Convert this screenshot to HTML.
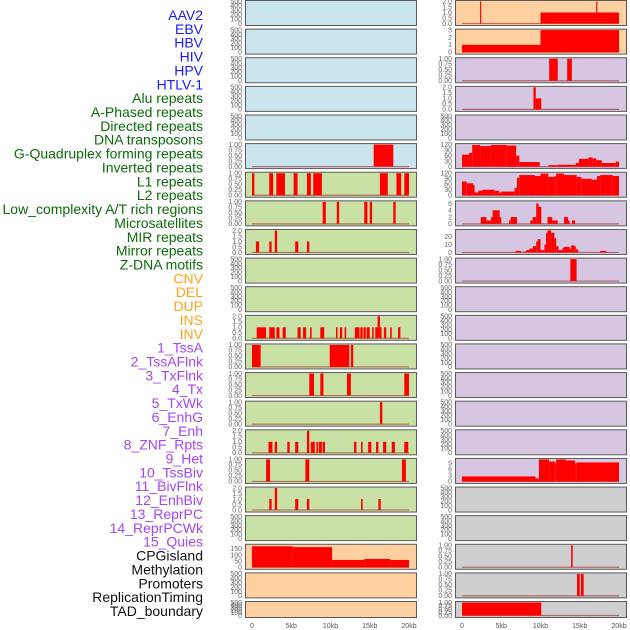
<!DOCTYPE html>
<html><head><meta charset="utf-8"><style>
html,body{margin:0;padding:0;background:#fff;width:630px;height:630px;overflow:hidden}
svg{display:block}
</style></head><body>
<svg id="chart" width="630" height="630" xmlns="http://www.w3.org/2000/svg"></svg>
<script>
// ---- data ----
const trackLabels = ["AAV2","EBV","HBV","HIV","HPV","HTLV-1","Alu repeats","A-Phased repeats","Directed repeats","DNA transposons","G-Quadruplex forming repeats","Inverted repeats","L1 repeats","L2 repeats","Low_complexity A/T rich regions","Microsatellites","MIR repeats","Mirror repeats","Z-DNA motifs","CNV","DEL","DUP","INS","INV","1_TssA","2_TssAFlnk","3_TxFlnk","4_Tx","5_TxWk","6_EnhG","7_Enh","8_ZNF_Rpts","9_Het","10_TssBiv","11_BivFlnk","12_EnhBiv","13_ReprPC","14_ReprPCWk","15_Quies","CPGisland","Methylation","Promoters","ReplicationTiming","TAD_boundary"];
const labelGroups = [6,13,5,15,5];
const xTicks = [0,5,10,15,20];
const xTickLabels = ["0","5kb","10kb","15kb","20kb"];

const ticksEmpty = ["0","100","200","300","400","500"], valsEmpty=[0,100,200,300,400,500];
const ticks1 = ["0.00","0.25","0.50","0.75","1.00"], vals1=[0,0.25,0.5,0.75,1];
const ticks2 = ["0.0","0.5","1.0","1.5","2.0"], vals2=[0,0.5,1,1.5,2];

// left column segments [startKb, endKb, value]
const L6 = [[15.5,18.0,1]];
const L7 = [[0,0.3,1],[2.2,2.7,1],[3.1,4.2,1],[5.3,5.8,1],[7.0,7.5,1],[7.8,8.9,1],[16.3,17.3,1],[18.4,19.0,1],[19.4,20,1]];
const L8 = [[9.0,9.4,1],[10.8,11.1,1],[14.3,14.7,1],[15.0,15.3,1],[18.0,18.3,1]];
const L9 = [[0.5,0.9,1],[2.2,2.5,1],[2.9,3.2,2],[5.5,5.9,1],[7.0,7.3,1]];
const L12 = [[0.6,1.8,1],[2.2,2.9,1],[3.1,3.5,1],[3.9,4.3,1],[5.8,6.2,1],[6.5,6.9,1],[7.4,7.6,1],[8.7,9.2,1],[10.7,10.9,1],[11.2,11.5,1],[11.8,12.0,1],[13.1,13.7,1],[13.8,14.1,1],[14.2,14.5,1],[14.6,15.0,1],[15.3,15.5,1],[15.7,16.0,1],[16.0,16.3,2],[16.3,16.5,1],[16.8,17.1,1],[17.6,17.8,1],[18.6,18.9,1]];
const L13 = [[0,1.1,1],[9.9,12.4,1],[12.6,12.9,1]];
const L14 = [[7.3,7.9,1],[8.7,9.1,1],[12.1,12.6,1],[19.4,20,1]];
const L15 = [[16.3,16.6,1]];
const L16 = [[2.1,2.6,1],[2.9,3.2,1],[4.5,4.8,1],[5.5,5.9,1],[7.0,7.3,2],[7.5,8.0,1],[8.2,8.4,1],[8.5,8.9,1],[9.0,9.3,1],[13.0,13.3,1],[13.9,14.1,1],[14.8,15.2,1],[15.8,16.1,1],[16.7,17.1,1],[17.8,18.2,1],[19.4,19.9,1]];
const L17 = [[1.8,2.3,1],[6.8,7.3,1],[19.1,19.6,1]];
const L18 = [[2.2,2.5,1],[2.9,3.2,2],[5.5,5.9,1],[7.0,7.3,1],[13.9,14.1,1],[16.1,16.4,1]];
const L20 = [[0,5.2,172],[5.2,10.2,165],[10.2,14.3,60],[14.3,17.6,68],[17.6,20,60]];
// right column
const R1 = [[2.3,2.45,2],[10,20,1],[17.1,17.25,2]];
const R2 = [[0,10,1],[10,20,3]];
const R3 = [[11.1,12.2,1],[13.4,14.0,1]];
const R4 = [[9.1,9.4,2],[9.4,10.1,1]];
const R6 = [[0,0.9,65],[0.9,1.3,75],[1.3,2.3,118],[2.3,3.7,112],[3.7,5.7,118],[5.7,6.9,115],[6.9,7.3,60],[7.3,9.9,25],[9.9,11,0],[11,12.2,8],[12.2,14.5,10],[14.5,14.9,20],[14.9,16.1,42],[16.1,16.6,50],[16.6,17.1,45],[17.1,17.8,35],[17.8,19.6,20],[19.6,20,27]];
const R7 = [[0,0.6,75],[0.6,1.4,65],[1.4,1.6,55],[1.6,2.1,15],[2.1,2.6,25],[2.6,4.1,30],[4.1,4.7,25],[4.7,5.0,15],[5.0,6.7,20],[6.7,7.0,40],[7.0,7.3,95],[7.3,9.3,110],[9.3,10.0,105],[10.0,11.0,118],[11.0,11.8,100],[11.8,12.0,105],[12.0,13.0,118],[13.0,14.6,110],[14.6,15.2,100],[15.2,16.5,90],[16.5,17.2,85],[17.2,17.6,105],[17.6,19.2,110],[19.2,20,105]];
const R8 = [[2.4,3.1,2],[3.1,3.7,1],[3.7,3.9,2],[3.9,4.8,4],[4.8,5.0,2],[6.0,6.2,1],[6.2,7.0,2],[8.7,9.0,1],[9.0,9.45,2],[9.45,9.75,6],[9.75,10.1,5],[10.9,11.5,2],[11.5,12.2,1],[13.0,13.5,2],[13.5,13.7,1],[14.0,14.4,1]];
const R9 = [[6.8,7.55,2],[7.76,8.19,1],[8.19,8.6,3],[8.6,9.03,5],[9.03,9.45,8],[9.45,9.66,14],[9.66,10.0,17],[10.0,10.5,3],[10.5,10.7,10],[10.7,10.9,25],[10.9,11.35,28],[11.35,11.77,25],[11.77,12.0,18],[12.0,12.3,8],[12.3,12.8,3],[12.8,13.0,6],[13.0,13.7,7],[13.7,13.9,5],[13.9,14.3,9],[14.3,14.5,8],[14.5,14.8,4],[17.6,18.4,2]];
const R10 = [[13.8,14.6,1]];
const R17 = [[0,9.37,2.5],[9.37,9.8,1.5],[9.8,11.1,11],[11.1,11.8,10],[11.8,12.0,9.5],[12.0,13.25,11],[13.25,14.4,10.5],[14.4,14.6,9],[14.6,20,9.5]];
const R20 = [[13.9,14.1,1]];
const R21 = [[14.65,15.0,1],[15.15,15.5,1]];
const R22 = [[0,10.1,1]];

const BLUE="#c9e4ed",GREEN="#c9e1a4",ORANGE="#ffd1a0",PURPLE="#d6c6e2",GREY="#cfcfcf";
function P(name,bg,segs,max,tl,tv){return {name:name,bg:bg,segs:segs,max:max,tl:tl,tv:tv};}
const leftPanels=[
P("aav2",BLUE,null,500,ticksEmpty,valsEmpty),P("ebv",BLUE,null,500,ticksEmpty,valsEmpty),P("hbv",BLUE,null,500,ticksEmpty,valsEmpty),
P("hiv",BLUE,null,500,ticksEmpty,valsEmpty),P("hpv",BLUE,null,500,ticksEmpty,valsEmpty),P("htlv",BLUE,L6,1,ticks1,vals1),
P("alu",GREEN,L7,1,ticks1,vals1),P("a-phased",GREEN,L8,1,ticks1,vals1),P("directed",GREEN,L9,2,ticks2,vals2),
P("dna-transposons",GREEN,null,500,ticksEmpty,valsEmpty),P("g-quad",GREEN,null,500,ticksEmpty,valsEmpty),P("inverted",GREEN,L12,2,ticks2,vals2),
P("l1",GREEN,L13,1,ticks1,vals1),P("l2",GREEN,L14,1,ticks1,vals1),P("low-complexity",GREEN,L15,1,ticks1,vals1),
P("microsatellites",GREEN,L16,2,ticks2,vals2),P("mir",GREEN,L17,1,ticks1,vals1),P("mirror",GREEN,L18,2,ticks2,vals2),
P("z-dna",GREEN,null,500,ticksEmpty,valsEmpty),P("cnv",ORANGE,L20,180,["0","50","100","150"],[0,50,100,150]),
P("del",ORANGE,null,500,ticksEmpty,valsEmpty),P("dup",ORANGE,null,500,ticksEmpty,valsEmpty)];
const rightPanels=[
P("ins",ORANGE,R1,2,ticks2,vals2),P("inv",ORANGE,R2,3,["0","1","2","3"],[0,1,2,3]),P("tssa",PURPLE,R3,1,ticks1,vals1),
P("tssaflnk",PURPLE,R4,2,ticks2,vals2),P("txflnk",PURPLE,null,500,ticksEmpty,valsEmpty),P("tx",PURPLE,R6,120,["0","30","60","90","120"],[0,30,60,90,120]),
P("txwk",PURPLE,R7,120,["0","30","60","90","120"],[0,30,60,90,120]),P("enhg",PURPLE,R8,6.5,["0","2","4","6"],[0,2,4,6]),P("enh",PURPLE,R9,28,["0","10","20"],[0,10,20]),
P("znf",PURPLE,R10,1,ticks1,vals1),P("het",PURPLE,null,500,ticksEmpty,valsEmpty),P("tssbiv",PURPLE,null,500,ticksEmpty,valsEmpty),
P("bivflnk",PURPLE,null,500,ticksEmpty,valsEmpty),P("enhbiv",PURPLE,null,500,ticksEmpty,valsEmpty),P("reprpc",PURPLE,null,500,ticksEmpty,valsEmpty),
P("reprpcwk",PURPLE,null,500,ticksEmpty,valsEmpty),P("quies",PURPLE,R17,11,["0","3","6","9"],[0,3,6,9]),P("cpgisland",GREY,null,500,ticksEmpty,valsEmpty),
P("methylation",GREY,null,500,ticksEmpty,valsEmpty),P("promoters",GREY,R20,1,ticks1,vals1),P("replication",GREY,R21,1,ticks1,vals1),P("tad",GREY,R22,1,ticks1,vals1)];

// ---- drawing ----
const NS="http://www.w3.org/2000/svg";
const svg=document.getElementById("chart");
function mk(tag,attrs,parent){const e=document.createElementNS(NS,tag);for(const k in attrs)e.setAttribute(k,attrs[k]);(parent||svg).appendChild(e);return e;}

const groupColors=["#1a1aff","#0b6b0b","#ffa31a","#a546f5","#111111"];
let gi=0,cnt=0;
trackLabels.forEach((t,i)=>{
  while(cnt>=labelGroups[gi]){cnt=0;gi++;}
  cnt++;
  const e=mk("text",{x:203,y:15+i*13.86+5,"text-anchor":"end","font-family":"Liberation Sans, sans-serif","font-size":"14",fill:groupColors[gi]});
  e.textContent=t;
  
  
});

function drawColumn(panels,boxX,side){
  const x0=boxX+7, x1=boxX+164;
  const xs=kb=>x0+(kb/20)*(x1-x0);
  panels.forEach((p,i)=>{
    const top=i*28.62+0.5;
    const h=(i===panels.length-1)?16:25;
    const g=mk("g",{});
    
    
    mk("rect",{x:boxX+0.5,y:top,width:171,height:h,fill:p.bg,stroke:"#5a5a5a","stroke-width":1},g);
    const yb=top+h-2, yt=top+1;
    const ys=v=>yb-(v/p.max)*(yb-yt);
    p.tv.forEach((v,k)=>{
      const t=mk("text",{x:boxX-3,y:ys(v)+2.3,"text-anchor":"end","font-family":"Liberation Sans, sans-serif","font-size":"7",fill:"#666"},g);
      t.textContent=p.tl[k];
      
      
    });
    if(p.segs){
      mk("line",{x1:xs(0),x2:xs(20),y1:yb,y2:yb,stroke:"rgba(150,20,20,0.55)","stroke-width":1.2},g);
      p.segs.forEach(s=>{
        const a=xs(s[0]),b=xs(s[1]);
        const r=mk("rect",{x:a,y:ys(s[2]),width:Math.max(1,b-a),height:Math.max(0,yb-ys(s[2])),fill:"#ff0000"},g);
        
        
      });
    }
  });
  xTicks.forEach((v,k)=>{
    const t=mk("text",{x:xs(v),y:628,"text-anchor":"middle","font-family":"Liberation Sans, sans-serif","font-size":"7",fill:"#555"});
    t.textContent=xTickLabels[k];
    
    
  });
}
drawColumn(leftPanels,245,"left");
drawColumn(rightPanels,455,"right");
</script>
</body></html>
